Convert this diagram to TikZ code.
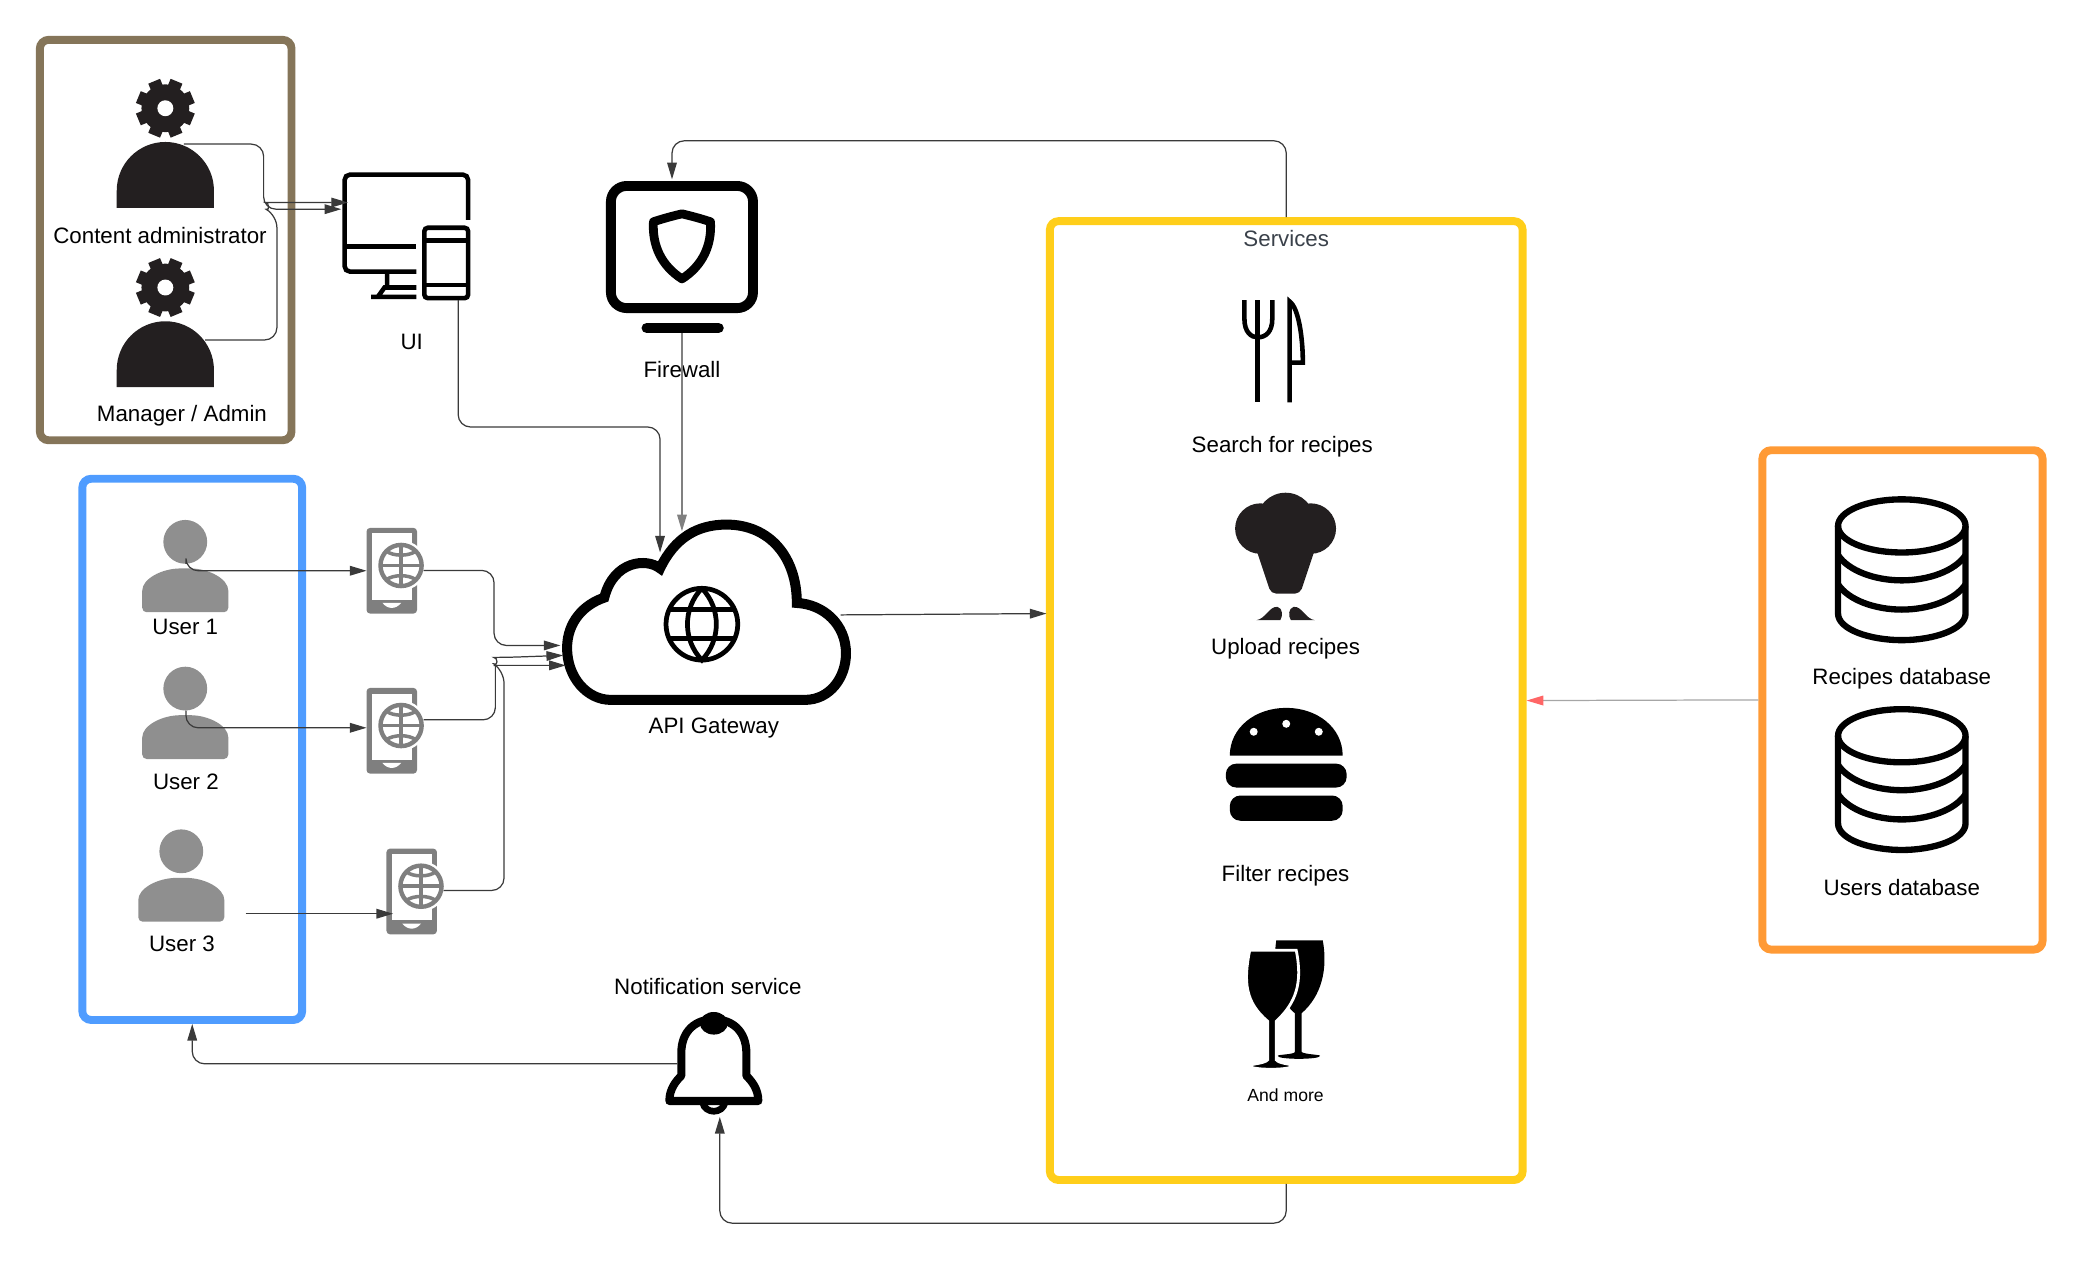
\documentclass[tikz,border=0pt]{standalone}
\usepackage{fontspec}
\setmainfont{Liberation Sans}
\usetikzlibrary{arrows.meta,fit}
\definecolor{adminbrown}{HTML}{857559}
\definecolor{userblue}{HTML}{4F9CFF}
\definecolor{serviceyellow}{HTML}{FFCE1A}
\definecolor{storeorange}{HTML}{FF9A35}
\definecolor{icondark}{HTML}{231F20}
\definecolor{usergray}{HTML}{8F8F8F}
\definecolor{phonegray}{HTML}{7F7F7F}
\definecolor{linkgray}{HTML}{3A3A3A}
\definecolor{servicetext}{HTML}{3A414A}
\tikzset{
	groupbox/.style = {rectangle, rounded corners = 5pt, line width = 4.5pt, inner sep = 0pt},
	iconbox/.style = {rectangle, inner sep = 0pt, outer sep = 0pt},
	lbl/.style = {inner sep = 0pt, font = \fontsize{12.7}{15}\selectfont},
	link/.style = {draw = linkgray, line width = .7pt, rounded corners = 7pt, -{Triangle[length = 9.5pt, width = 5.5pt]}},
	admin/.pic = {
		\fill [icondark] (0,0) circle (18);
		\foreach \a in {22.5,67.5,...,337.5}
			\fill [icondark, rotate = \a] (-4.8,-22) rectangle (4.8,-15);
		\fill [white] (0,0) circle (6);
		\fill [icondark] (-36.6,75) -- (-36.6,62) arc [start angle = 180, end angle = 360, radius = 36.6] -- (36.6,75) -- cycle;
	},
	person/.pic = {
		\fill [usergray] (0,-20) circle (16.5);
		\fill [usergray, rounded corners = 2.5pt] (-32.4,33) -- (-32.4,20) .. controls (-32.4,8) and (-18,0) .. (0,0) .. controls (18,0) and (32.4,8) .. (32.4,20) -- (32.4,33) -- cycle;
	},
	phone/.pic = {
		\fill [phonegray, rounded corners = 2pt] (0,0) rectangle (38,64.5);
		\fill [white] (4,4.2) rectangle (34,54);
		\fill [white] (12,56.5) .. controls (16,61.5) and (22,61.5) .. (26,56.5) -- cycle;
		\fill [white] (26,28.3) circle (19);
		\draw [phonegray, line width = 2.5pt] (26,28.3) circle (15.5);
		\draw [phonegray, line width = 2pt] (10.5,28.3) -- (41.5,28.3) (26,12.8) -- (26,43.8);
		\draw [phonegray, line width = 2pt] (15,17.5) .. controls (20,21.5) and (32,21.5) .. (37,17.5);
		\draw [phonegray, line width = 2pt] (15,39) .. controls (20,35) and (32,35) .. (37,39);
	},
	store/.pic = {
		\draw [line width = 3.6pt] (0,0) ellipse (48 and 20);
		\draw [line width = 3.6pt] (-48,0) -- (-48,66) .. controls (-48,78) and (-24,86) .. (0,86) .. controls (24,86) and (48,78) .. (48,66) -- (48,0);
		\draw [line width = 3.6pt] (-48,22) .. controls (-40,34) and (-20,41) .. (0,41) .. controls (20,41) and (40,34) .. (48,22);
		\draw [line width = 3.6pt] (-48,44) .. controls (-40,56) and (-20,63) .. (0,63) .. controls (20,63) and (40,56) .. (48,44);
	}
}
\begin{document}
\begin{tikzpicture}[x = .02656cm, y = -.02656cm]
	\useasboundingbox (0,0) rectangle (1567.7,951.8);

	\node (admins) [groupbox, draw = adminbrown, fit = {(30,30) (219.5,331.5)}] {};
	\node (users) [groupbox, draw = userblue, fit = {(62,360.5) (227.5,768)}] {};
	\node (services) [groupbox, draw = serviceyellow, fit = {(790.5,166.5) (1146.5,888.5)}] {};
	\node (stores) [groupbox, draw = storeorange, fit = {(1327,339) (1538,715)}] {};

	\pic at (124.5,81.5) {admin};
	\pic at (124.5,216.5) {admin};
	\node (cadminLbl) at (120.5,177) [lbl] {Content administrator};
	\node (mgrLbl) at (137,313) [lbl] {Manager / Admin};

	\node (uiIcon) [iconbox, fit = {(257,130) (355,227)}] {};
	\draw [line width = 2.6pt, rounded corners = 3pt] (352.5,165.5) -- (352.5,131.5) -- (259.5,131.5) -- (259.5,204.5) -- (313.5,204.5);
	\draw [line width = 2.6pt] (259.5,185.5) -- (313.5,185.5);
	\draw [line width = 2.6pt] (291.5,204.5) -- (291.5,216.5) (313.5,216.5) -- (289.5,216.5) -- (284.5,223.5) (279.5,223.5) -- (313.5,223.5);
	\draw [line width = 2.6pt, rounded corners = 2pt] (319.5,171.5) rectangle (352.5,224.5);
	\draw [line width = 2.6pt] (319.5,181) -- (352.5,181) (319.5,214.5) -- (352.5,214.5);
	\node (uiLbl) at (310,257.5) [lbl] {UI};

	\node (firewall) [iconbox, fit = {(456,136) (571,251)}] {};
	\draw [line width = 5.6pt, rounded corners = 9pt] (460,140) rectangle (567,232);
	\draw [line width = 5pt, line join = round] (513.5,161) .. controls (505,163) and (498,165) .. (492,167) .. controls (491,185) and (498,200) .. (513.5,210) .. controls (529,200) and (536,185) .. (535,167) .. controls (529,165) and (522,163) .. (513.5,161) -- cycle;
	\draw [line width = 6pt, line cap = round] (487,247) -- (541,247);
	\node (fwLbl) at (513.5,278.5) [lbl] {Firewall};

	\node (gateway) [iconbox, fit = {(423,391) (641,531)}] {};
	\draw [line width = 5.7pt] (460,527) -- (606,527) .. controls (625,527) and (637,510) .. (637,492) .. controls (637,470) and (620,455) .. (600,454) .. controls (600,420) and (580,395) .. (547,395) .. controls (525,395) and (508,405) .. (497,428) .. controls (487,420) and (462,422) .. (455,450) .. controls (440,455) and (427,468) .. (427,488) .. controls (427,510) and (442,527) .. (460,527) -- cycle;
	\draw [line width = 2.7pt] (528.5,470) circle (27);
	\draw [line width = 2.7pt] (528.5,443) .. controls (514,458) and (514,482) .. (528.5,497) .. controls (543,482) and (543,458) .. (528.5,443);
	\draw [line width = 2.7pt] (504,459) -- (553,459) (504,481) -- (553,481);
	\node (gwLbl) at (537.5,548) [lbl] {API Gateway};

	\pic at (139.5,428) {person};
	\pic at (139.5,538.5) {person};
	\pic at (136.5,661) {person};
	\node (user1Lbl) at (139.5,472) [lbl] {User 1};
	\node (user2Lbl) at (140,588.5) [lbl] {User 2};
	\node (user3Lbl) at (137,711) [lbl] {User 3};

	\node (phone1) [iconbox, fit = {(276,397.5) (319,462)}] {};
	\node (phone2) [iconbox, fit = {(276,518) (319,582.5)}] {};
	\node (phone3) [iconbox, fit = {(291,639) (334,703.5)}] {};
	\pic at (276,397.5) {phone};
	\pic at (276,518) {phone};
	\pic at (291,639) {phone};

	\node (bell) [iconbox, fit = {(501,762) (574,841)}] {};
	\fill (537.5,770.5) ellipse (10.5 and 8.5);
	\draw [line width = 4.6pt, line join = round] (513,810) -- (513,793) .. controls (513,776) and (524,767.5) .. (537.5,767.5) .. controls (551,767.5) and (562,776) .. (562,793) -- (562,810) .. controls (566,814) and (571,820) .. (571,829) -- (504,829) .. controls (504,820) and (509,814) .. (513,810) -- cycle;
	\draw [line width = 3.8pt] (529,830) .. controls (531,839) and (544,839) .. (546,830);
	\node (bellLbl) at (533,743) [lbl] {Notification service};

	\node (servicesLbl) at (968.5,179.5) [lbl, text = servicetext] {Services};

	\node (cutlery) [iconbox, fit = {(935,225) (983,304)}] {};
	\draw [line width = 2.6pt] (937,226) -- (937,240) .. controls (937,250) and (942,254) .. (947,254) .. controls (953,254) and (958,250) .. (958,240) -- (958,226);
	\draw [line width = 2.6pt] (947,226) -- (947,303);
	\draw [line width = 2.6pt] (971,303) -- (971,227) .. controls (978,232) and (981,255) .. (981,273) -- (971,273);
	\node (searchLbl) at (965.5,336) [lbl] {Search for recipes};

	\node (hat) [iconbox, fit = {(930,371) (1006,467)}] {};
	\fill [icondark] (968,393) circle (22);
	\fill [icondark] (949,398) circle (19);
	\fill [icondark] (987,398) circle (19);
	\fill [icondark, rounded corners = 3pt] (944,408) -- (957,447) -- (979,447) -- (992,408) -- cycle;
	\fill [icondark] (946,467) .. controls (953,466) and (956,456) .. (962,457) .. controls (966,458) and (966,464) .. (964,467) -- cycle;
	\fill [icondark] (990,467) .. controls (983,466) and (980,456) .. (974,457) .. controls (970,458) and (970,464) .. (972,467) -- cycle;
	\node (uploadLbl) at (968,488.5) [lbl] {Upload recipes};

	\node (burger) [iconbox, fit = {(923,533) (1014,618)}] {};
	\fill (926,569) .. controls (926,548) and (945,533) .. (968.5,533) .. controls (992,533) and (1011,548) .. (1011,569) -- cycle;
	\fill [white] (944,551) circle (3) (968.5,545) circle (3) (993,551) circle (3);
	\fill [rounded corners = 6pt] (923,575) rectangle (1014,593);
	\fill [rounded corners = 6pt] (926,599) -- (926,618) -- (1011,618) -- (1011,599) -- cycle;
	\node (filterLbl) at (968,659.5) [lbl] {Filter recipes};

	\node (glasses) [iconbox, fit = {(939,708) (999,805)}] {};
	\fill (961,708) -- (996,708) .. controls (1000,730) and (995,750) .. (980,763) -- (980,792) .. controls (982,794) and (994,794) .. (994,795) .. controls (994,798) and (962,798) .. (962,795) .. controls (962,794) and (975,794) .. (975,792) -- (975,763) .. controls (960,750) and (958,730) .. (961,708) -- cycle;
	\path [fill, draw = white, line width = 1.6pt] (941,715.5) -- (976,715.5) .. controls (981,740) and (976,755) .. (961,769) -- (961,798) .. controls (963,801) and (973,801) .. (973,802.5) .. controls (973,806) and (941,806) .. (941,802.5) .. controls (941,801) and (952,801) .. (954.5,798) -- (954.5,769) .. controls (938,755) and (936,740) .. (941,715.5) -- cycle;
	\node (moreLbl) at (968,825) [inner sep = 0pt, font = \fontsize{10}{12}\selectfont] {And more};

	\pic at (1432,396) {store};
	\pic at (1432,554) {store};
	\node (recipesLbl) at (1432,511) [lbl] {Recipes database};
	\node (usersLbl) at (1432,668) [lbl] {Users database};

	\coordinate (cadminOut) at (138.5,108.5);
	\coordinate (mgrOut) at (154.5,256);
	\coordinate (uiInA) at (257,157.5);
	\coordinate (uiInB) at (262,152.5);
	\coordinate (uiOut) at (345,226);
	\coordinate (gwTopA) at (497,416);
	\coordinate (gwTopB) at (513.5,400);
	\coordinate (gwLeftA) at (422,486);
	\coordinate (gwLeftB) at (424,493.5);
	\coordinate (gwLeftC) at (426,501);
	\coordinate (gwOut) at (633,463);
	\coordinate (servicesIn) at (788,462);
	\coordinate (fwBend) at (506,106);
	\coordinate (fwIn) at (506,135);
	\coordinate (bellOut) at (510,801);
	\coordinate (bellBend) at (542,921);
	\coordinate (bellIn) at (542,841);
	\coordinate (user1Out) at (140,424.5);
	\coordinate (user2Out) at (140,535);
	\coordinate (user3Out) at (185,688);
	\coordinate (phone2In) at (276,548);
	\coordinate (phone3In) at (296,688);
	\coordinate (phone1Out) at (319,429.5);
	\coordinate (phone2Out) at (319,542);
	\coordinate (phone3Out) at (334,670.5);

	\draw [link] (cadminOut) -- (198.5,108.5) -- (198.5,157.5) -- (uiInA);
	\draw [link] (mgrOut) -- (208.5,256) -- (208.5,162) .. controls (203,159) and (203,152.5) .. (209,152.5) -- (uiInB);
	\draw [link] (uiOut) -- (345,321.5) -- (497,321.5) -- (gwTopA);
	\draw [link, draw = gray] (firewall.south -| gwTopB) -- (gwTopB);
	\draw [link] (services.north) |- (fwBend) -- (fwIn);
	\draw [link] (user1Out) |- (phone1.west);
	\draw [link] (user2Out) |- (phone2In);
	\draw [link] (user3Out) -- (phone3In);
	\draw [link] (phone1Out) -- (372,429.5) -- (372,486) -- (gwLeftA);
	\draw [link] (phone2Out) -- (373,542) -- (373,510) .. controls (373,503) and (375,501) .. (381,501) -- (gwLeftC);
	\draw [link] (phone3Out) -- (379.5,670.5) -- (379.5,505) .. controls (375,502) and (375,495) .. (381,495) -- (gwLeftB);
	\draw [link] (gwOut) -- (servicesIn);
	\draw [link, -{Triangle[length = 9.5pt, width = 5.5pt, color = red!60]}, draw = gray!70] (stores.west) -- (services.east);
	\draw [link] (bellOut) -| (users.south);
	\draw [link] (services.south) |- (bellBend) -- (bellIn);
\end{tikzpicture}
\end{document}
